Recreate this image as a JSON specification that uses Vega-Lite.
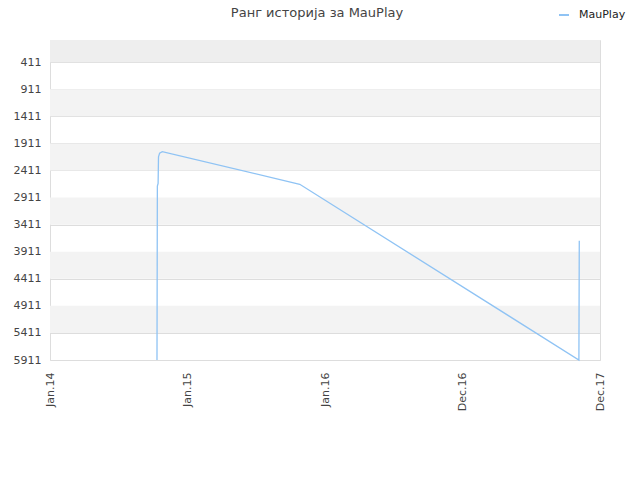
{
  "$schema": "https://vega.github.io/schema/vega-lite/v6.json",
  "width": 550,
  "height": 320,
  "autosize": {"type": "none"},
  "padding": {"left": 50, "top": 40, "right": 40, "bottom": 120},
  "title": {
    "text": "Ранг историја за MauPlay",
    "fontSize": 13,
    "fontWeight": "normal",
    "color": "#444444",
    "offset": -11,
    "dx": -8
  },
  "config": {
    "font": "DejaVu Sans",
    "view": {"stroke": "#dddddd", "strokeWidth": 1},
    "axis": {"labelColor": "#444444", "labelFontSize": 11}
  },
  "datasets": {
    "topband": [{"from": 1, "to": 411}],
    "altbands": [
      {"from": 911, "to": 1411},
      {"from": 1911, "to": 2411},
      {"from": 2911, "to": 3411},
      {"from": 3911, "to": 4411},
      {"from": 4911, "to": 5411}
    ],
    "ranks": [
      {"date": "2014-10-12", "rank": 5911, "player": "MauPlay"},
      {"date": "2014-10-13", "rank": 2700, "player": "MauPlay"},
      {"date": "2014-10-15", "rank": 2650, "player": "MauPlay"},
      {"date": "2014-10-16", "rank": 2160, "player": "MauPlay"},
      {"date": "2014-10-19", "rank": 2090, "player": "MauPlay"},
      {"date": "2014-10-26", "rank": 2064, "player": "MauPlay"},
      {"date": "2015-10-26", "rank": 2666, "player": "MauPlay"},
      {"date": "2017-11-05", "rank": 5911, "player": "MauPlay"},
      {"date": "2017-11-06", "rank": 3708, "player": "MauPlay"}
    ]
  },
  "layer": [
    {
      "data": {"name": "topband"},
      "mark": {"type": "rect", "fill": "#eeeeee"},
      "encoding": {
        "y": {
          "field": "from", "type": "quantitative",
          "scale": {"domain": [1, 5911], "reverse": true, "nice": false, "zero": false},
          "axis": {
            "title": null,
            "values": [411, 911, 1411, 1911, 2411, 2911, 3411, 3911, 4411, 4911, 5411, 5911],
            "format": "d", "grid": true, "gridColor": "#dddddd", "ticks": false, "tickSize": 0,
            "domain": false, "labelPadding": 9, "labelFlush": false, "labelOverlap": false
          }
        },
        "y2": {"field": "to"}
      }
    },
    {
      "data": {"name": "altbands"},
      "mark": {"type": "rect", "fill": "#f3f3f3"},
      "encoding": {
        "y": {
          "field": "from", "type": "quantitative",
          "scale": {"domain": [1, 5911], "reverse": true, "nice": false, "zero": false},
          "axis": {
            "title": null,
            "values": [411, 911, 1411, 1911, 2411, 2911, 3411, 3911, 4411, 4911, 5411, 5911],
            "format": "d", "grid": true, "gridColor": "#dddddd", "ticks": false, "tickSize": 0,
            "domain": false, "labelPadding": 9, "labelFlush": false, "labelOverlap": false
          }
        },
        "y2": {"field": "to"}
      }
    },
    {
      "data": {"name": "ranks"},
      "mark": {"type": "line", "strokeWidth": 1.3, "interpolate": "linear"},
      "encoding": {
        "x": {
          "field": "date",
          "type": "temporal",
          "scale": {
            "type": "utc",
            "domain": [
              {"year": 2014, "month": 1, "date": 1, "utc": true},
              {"year": 2017, "month": 12, "date": 31, "utc": true}
            ]
          },
          "axis": {
            "title": null,
            "values": [
              {"year": 2014, "month": 1, "date": 1, "utc": true},
              {"year": 2015, "month": 1, "date": 1, "utc": true},
              {"year": 2016, "month": 1, "date": 1, "utc": true},
              {"year": 2016, "month": 12, "date": 31, "utc": true},
              {"year": 2017, "month": 12, "date": 31, "utc": true}
            ],
            "labelExpr": "utcFormat(datum.value, '%b.%y')",
            "labelAngle": 270,
            "labelAlign": "right",
            "labelBaseline": "middle",
            "labelPadding": 12,
            "ticks": false,
            "tickSize": 0,
            "domain": false,
            "grid": false,
            "labelFlush": false,
            "labelOverlap": false
          }
        },
        "y": {
          "field": "rank", "type": "quantitative",
          "scale": {"domain": [1, 5911], "reverse": true, "nice": false, "zero": false},
          "axis": {
            "title": null,
            "values": [411, 911, 1411, 1911, 2411, 2911, 3411, 3911, 4411, 4911, 5411, 5911],
            "format": "d", "grid": true, "gridColor": "#dddddd", "ticks": false, "tickSize": 0,
            "domain": false, "labelPadding": 9, "labelFlush": false, "labelOverlap": false
          }
        },
        "color": {
          "field": "player",
          "type": "nominal",
          "scale": {"range": ["#8fc3f4"]},
          "legend": {
            "title": null,
            "orient": "none",
            "legendX": 508,
            "legendY": -31,
            "symbolType": "stroke",
            "symbolSize": 100,
            "symbolStrokeWidth": 2,
            "labelOffset": 9,
            "labelFontSize": 11,
            "labelColor": "#222222"
          }
        }
      }
    }
  ]
}
